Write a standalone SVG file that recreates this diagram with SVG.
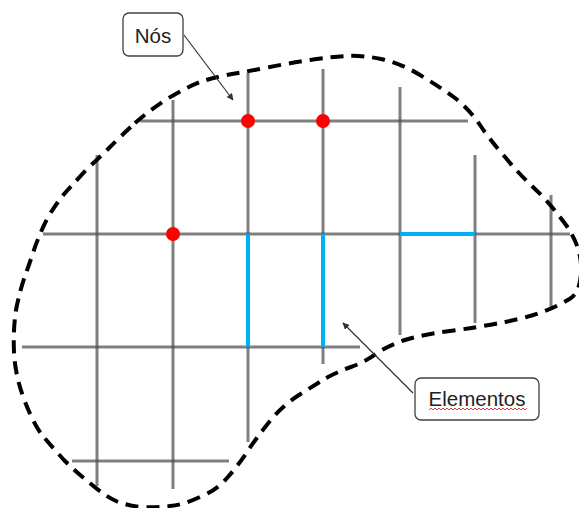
<svg xmlns="http://www.w3.org/2000/svg" width="579" height="508" viewBox="0 0 579 508">
<style>
.grid{stroke:#4d4d4d;stroke-opacity:.72;stroke-width:3;fill:none}
.elem{stroke:#00b0f0;stroke-width:4;fill:none}
.node{fill:#ff0000}
.boundary{fill:none;stroke:#000;stroke-width:4;stroke-dasharray:13 8}
.label rect{fill:#fff;stroke:#404040;stroke-width:1.3}
.label text{font-family:"Liberation Sans",Arial,sans-serif;font-size:20.5px;fill:#222}
.conn{stroke:#333;stroke-width:1.2;fill:none}
</style>
<defs>
<marker id="ah" viewBox="0 0 10 10" refX="9" refY="5" markerWidth="7" markerHeight="7" orient="auto" markerUnits="userSpaceOnUse">
<path d="M0,0 L10,5 L0,10 z" fill="#333"/>
</marker>
</defs>
<rect width="579" height="508" fill="#fff"/>
<g id="grid" class="grid">
<line x1="140" y1="121" x2="468" y2="121"/>
<line x1="43" y1="234" x2="570" y2="234"/>
<line x1="22" y1="347" x2="360" y2="347"/>
<line x1="72" y1="461" x2="229" y2="461"/>
<line x1="97" y1="155" x2="97" y2="486"/>
<line x1="173" y1="100" x2="173" y2="489"/>
<line x1="248" y1="73" x2="248" y2="442"/>
<line x1="323" y1="69" x2="323" y2="364"/>
<line x1="400" y1="87" x2="400" y2="335"/>
<line x1="475" y1="155" x2="475" y2="323"/>
<line x1="551" y1="195" x2="551" y2="307"/>
</g>
<g id="elements" class="elem">
<line x1="248" y1="234" x2="248" y2="347"/>
<line x1="323" y1="234" x2="323" y2="347"/>
<line x1="400" y1="234" x2="475" y2="234"/>
</g>
<path id="boundary" class="boundary" d="M135,123 Q150,110 167,99 Q185,88 200,82 Q215,77 232,74 Q250,71 270,67 Q290,63 310,60 Q330,57 346,56 Q362,55 381,59 Q400,63 420,75 Q440,87 455,98 Q470,110 480,125 Q490,140 505,157 Q520,175 535,189 Q550,203 566,225 Q580,245 581,265 Q582,290 571,298 Q560,305 545,311 Q530,317 505,322 Q480,327 450,331 Q420,335 405,340 Q390,345 377,353 Q365,362 351,367 Q337,372 326,378 Q315,385 299,395 Q283,405 270,421 Q257,437 247,452 Q237,467 227,478 Q217,490 200,497 Q183,505 170,506 Q157,508 142,507 Q128,506 116,501 Q105,496 91,484 Q77,473 64,460 Q52,447 42,435 Q33,423 24,399 Q15,375 14,352 Q13,330 16,310 Q20,290 25,276 Q30,262 35,247 Q40,233 47,219 Q55,205 65,193 Q75,182 87,169 Q100,157 110,147 Q120,137 135,123"/>
<g id="node1"><circle class="node" cx="248" cy="121" r="7"/></g>
<g id="node2"><circle class="node" cx="323" cy="121" r="7"/></g>
<g id="node3"><circle class="node" cx="173" cy="234" r="7"/></g>
<g id="label-nos" class="label">
<rect x="123" y="13" width="60" height="43" rx="6"/>
<text x="153" y="43" text-anchor="middle">Nós</text>
</g>
<g id="label-elementos" class="label">
<rect x="415" y="378" width="124" height="42" rx="6"/>
<text x="477" y="406" text-anchor="middle">Elementos</text>
<path d="M429,410 l2,-2 l2,2 l2,-2 l2,2 l2,-2 l2,2 l2,-2 l2,2 l2,-2 l2,2 l2,-2 l2,2 l2,-2 l2,2 l2,-2 l2,2 l2,-2 l2,2 l2,-2 l2,2 l2,-2 l2,2 l2,-2 l2,2 l2,-2 l2,2 l2,-2 l2,2 l2,-2 l2,2 l2,-2 l2,2 l2,-2 l2,2 l2,-2 l2,2 l2,-2 l2,2 l2,-2 l2,2 l2,-2 l2,2 l2,-2 l2,2 l2,-2 l2,2 l2,-2 l2,2 l2,-2" fill="none" stroke="#e03030" stroke-width="0.9"/>
</g>
<g id="connectors">
<line class="conn" x1="184" y1="35" x2="233" y2="100" marker-end="url(#ah)"/>
<line class="conn" x1="413" y1="393" x2="343" y2="323" marker-end="url(#ah)"/>
</g>
</svg>
